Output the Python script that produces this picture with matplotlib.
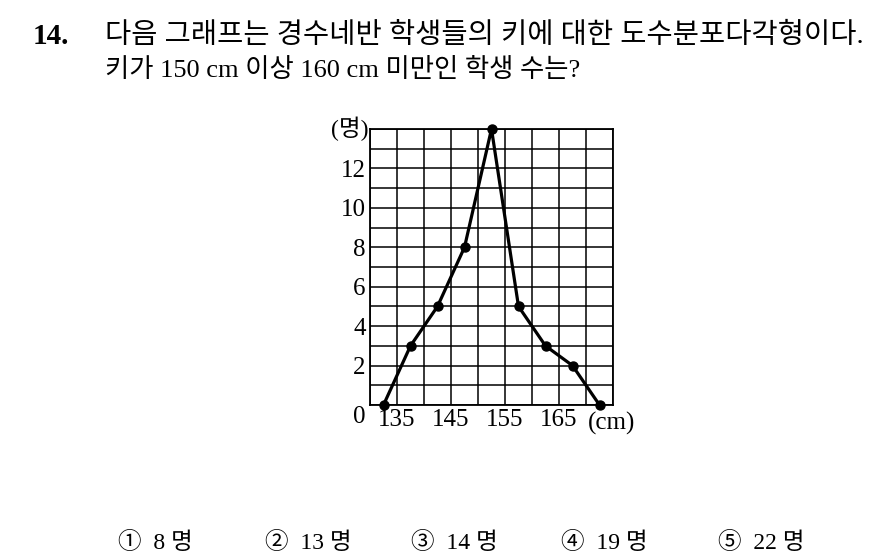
import numpy as np
import matplotlib
matplotlib.use('Agg')
import matplotlib.pyplot as plt

plt.rcParams['font.family'] = ['Liberation Serif', 'Noto Sans CJK KR']

# class midpoints (cm) and number of students
heights = [132.5, 137.5, 142.5, 147.5, 152.5, 157.5, 162.5, 167.5, 172.5]
counts = [0, 3, 5, 8, 14, 5, 3, 2, 0]

xticks = [135, 145, 155, 165]
yticks = [2, 4, 6, 8, 10, 12]

choices = ['\u2460  8 명', '\u2461  13 명', '\u2462  14 명', '\u2463  19 명', '\u2464  22 명']
choice_x = [118, 265, 411, 561, 718]

fig = plt.figure(figsize=(8.84, 5.59), dpi=100)

# question text
fig.text(33 / 884, 1 - 36 / 559, '14.', fontsize=21, fontweight='bold', va='center')
fig.text(105 / 884, 1 - 36 / 559,
         '다음 그래프는 경수네반 학생들의 키에 대한 도수분포다각형이다.',
         fontsize=20.5, va='center')
fig.text(105 / 884, 1 - 70 / 559, '키가 150 cm 이상 160 cm 미만인 학생 수는?',
         fontsize=19, va='center')

ax = fig.add_axes([370 / 884, 154 / 559, 243 / 884, 276 / 559])
ax.set_xlim(130, 175)
ax.set_ylim(0, 14)

# grid
for gx in np.arange(130, 176, 5):
    ax.axvline(gx, color='black', lw=1.1, zorder=1)
for gy in range(0, 15):
    ax.axhline(gy, color='black', lw=1.1, zorder=1)

ax.plot(heights, counts, color='black', lw=2.3, marker='o', markersize=6.5,
        clip_on=False, zorder=3)

for s in ax.spines.values():
    s.set_linewidth(1.3)

ax.set_xticks(xticks)
ax.set_xticklabels([str(t) for t in xticks], fontsize=18)
ax.set_yticks(yticks)
ax.set_yticklabels([str(t) for t in yticks], fontsize=18)
ax.tick_params(length=0, pad=3)

ax.text(-0.02, -0.005, '0', transform=ax.transAxes, fontsize=18,
        ha='right', va='top')
ax.text(-0.005, 1.0, '(명)', transform=ax.transAxes, fontsize=17,
        ha='right', va='center')
ax.text(0.995, -0.025, '(cm)', transform=ax.transAxes, fontsize=18,
        ha='center', va='top')

for cx, c in zip(choice_x, choices):
    fig.text(cx / 884, 1 - 543 / 559, c, fontsize=17, va='center')

fig.savefig('out.png', dpi=100)
